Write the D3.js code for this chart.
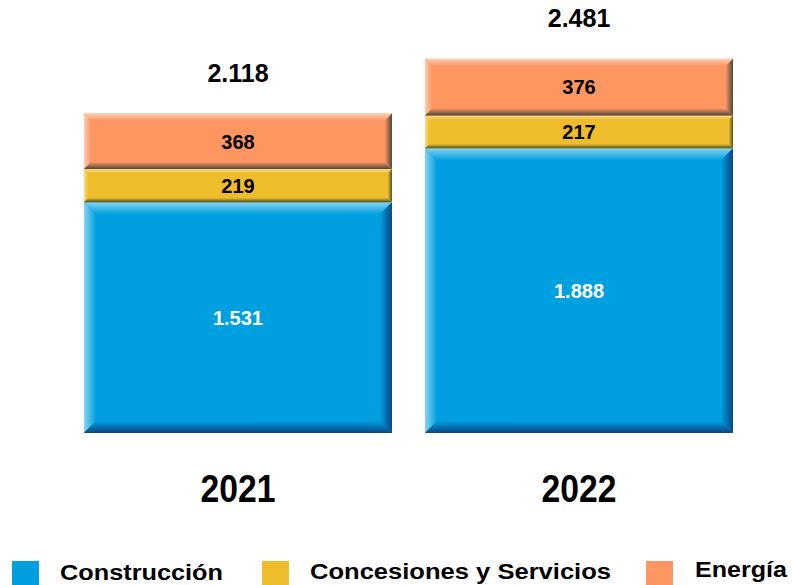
<!DOCTYPE html>
<html>
<head>
<meta charset="utf-8">
<script src="https://cdn.jsdelivr.net/npm/d3@7"></script>
<style>
  body { margin: 0; background: #fff; }
  svg { display: block; font-family: "Liberation Sans", Arial, sans-serif; font-weight: bold; }
</style>
</head>
<body>
<svg width="792" height="585"></svg>
<script>
// data
var years = ["2021", "2022"];
var series = ["Construcción", "Concesiones y Servicios", "Energía"];
var construccion = [1531, 1888];
var concesiones = [219, 217];
var energia = [368, 376];
var totalLabels = ["2.118", "2.481"];
var valueLabels = [["1.531", "1.888"], ["219", "217"], ["368", "376"]];

var values = [construccion, concesiones, energia];
var colors = ["#009fdf", "#efbd2c", "#ff9561"];
var lightEdge = ["#86d2f3", "#f8dc8c", "#ffcdb2"];
var darkEdge = ["#0b4585", "#4b5322", "#4a473b"];
var labelColor = ["#fff", "#000", "#000"];

var svg = d3.select("svg");
var defs = svg.append("defs");

var x = d3.scaleBand().domain(years).range([84, 733]).paddingInner(0.097).paddingOuter(0);
var y = d3.scaleLinear().domain([0, 2500]).range([433, 56]);

// gradients for the bevel edges
colors.forEach(function(c, i) {
  function grad(id, x1, y1, x2, y2, c1, c2) {
    var g = defs.append("linearGradient").attr("id", id)
        .attr("x1", x1).attr("y1", y1).attr("x2", x2).attr("y2", y2);
    g.append("stop").attr("offset", "0%").attr("stop-color", c1);
    g.append("stop").attr("offset", "100%").attr("stop-color", c2);
  }
  grad("top" + i, 0, 0, 0, 1, lightEdge[i], c);
  grad("left" + i, 0, 0, 1, 0, lightEdge[i], c);
  grad("right" + i, 0, 0, 1, 0, c, darkEdge[i]);
  grad("bottom" + i, 0, 0, 0, 1, c, darkEdge[i]);
});

// stack segments
var segments = [];
years.forEach(function(yr, j) {
  var base = 0;
  values.forEach(function(v, i) {
    segments.push({year: yr, s: i, y0: base, y1: base + v[j], label: valueLabels[i][j]});
    base += v[j];
  });
});

var seg = svg.append("g").selectAll("g").data(segments).enter().append("g");

seg.each(function(d) {
  var g = d3.select(this);
  var x0 = x(d.year), x1 = x0 + x.bandwidth();
  var top = y(d.y1), bot = y(d.y0);
  var h = bot - top;
  var b = Math.min(12, h * 0.13);
  var bs = d.s === 0 ? 12 : b;
  g.append("rect").attr("x", x0).attr("y", top).attr("width", x1 - x0).attr("height", h)
      .attr("fill", colors[d.s]);
  var poly = function(pts, fill) {
    g.append("polygon").attr("points", pts.map(function(p) { return p.join(","); }).join(" "))
        .attr("fill", fill);
  };
  poly([[x0, top], [x1, top], [x1 - bs, top + b], [x0 + bs, top + b]], "url(#top" + d.s + ")");
  poly([[x0, top], [x0 + bs, top + b], [x0 + bs, bot - b], [x0, bot]], "url(#left" + d.s + ")");
  poly([[x1, top], [x1, bot], [x1 - bs, bot - b], [x1 - bs, top + b]], "url(#right" + d.s + ")");
  poly([[x0, bot], [x0 + bs, bot - b], [x1 - bs, bot - b], [x1, bot]], "url(#bottom" + d.s + ")");
  g.append("text")
      .attr("x", (x0 + x1) / 2)
      .attr("y", (top + bot) / 2)
      .attr("dy", "0.36em")
      .attr("text-anchor", "middle")
      .attr("font-size", 20)
      .attr("fill", labelColor[d.s])
      .text(d.label);
});

// totals
svg.append("g").selectAll("text").data(years).enter().append("text")
    .attr("x", function(d) { return x(d) + x.bandwidth() / 2; })
    .attr("y", function(d, j) { return y(construccion[j] + concesiones[j] + energia[j]) - 32; })
    .attr("text-anchor", "middle")
    .attr("font-size", 25)
    .text(function(d, j) { return totalLabels[j]; });

// year labels
svg.append("g").selectAll("text").data(years).enter().append("text")
    .attr("x", function(d) { return x(d) + x.bandwidth() / 2; })
    .attr("y", 502)
    .attr("text-anchor", "middle")
    .attr("font-size", 38)
    .attr("textLength", 75)
    .attr("lengthAdjust", "spacingAndGlyphs")
    .text(function(d) { return d; });

// legend
var legendX = [12, 262, 646];
var legendTextX = [60, 310, 695];
var legendBase = [580, 579, 577];
var legendW = [163, 301, 92];
var leg = svg.append("g").selectAll("g").data(series).enter().append("g");
leg.append("rect")
    .attr("x", function(d, i) { return legendX[i]; })
    .attr("y", 561)
    .attr("width", 27)
    .attr("height", 24)
    .attr("fill", function(d, i) { return colors[i]; });
leg.append("text")
    .attr("x", function(d, i) { return legendTextX[i]; })
    .attr("y", function(d, i) { return legendBase[i]; })
    .attr("font-size", 22)
    .attr("textLength", function(d, i) { return legendW[i]; })
    .attr("lengthAdjust", "spacingAndGlyphs")
    .text(function(d) { return d; });
</script>
</body>
</html>
